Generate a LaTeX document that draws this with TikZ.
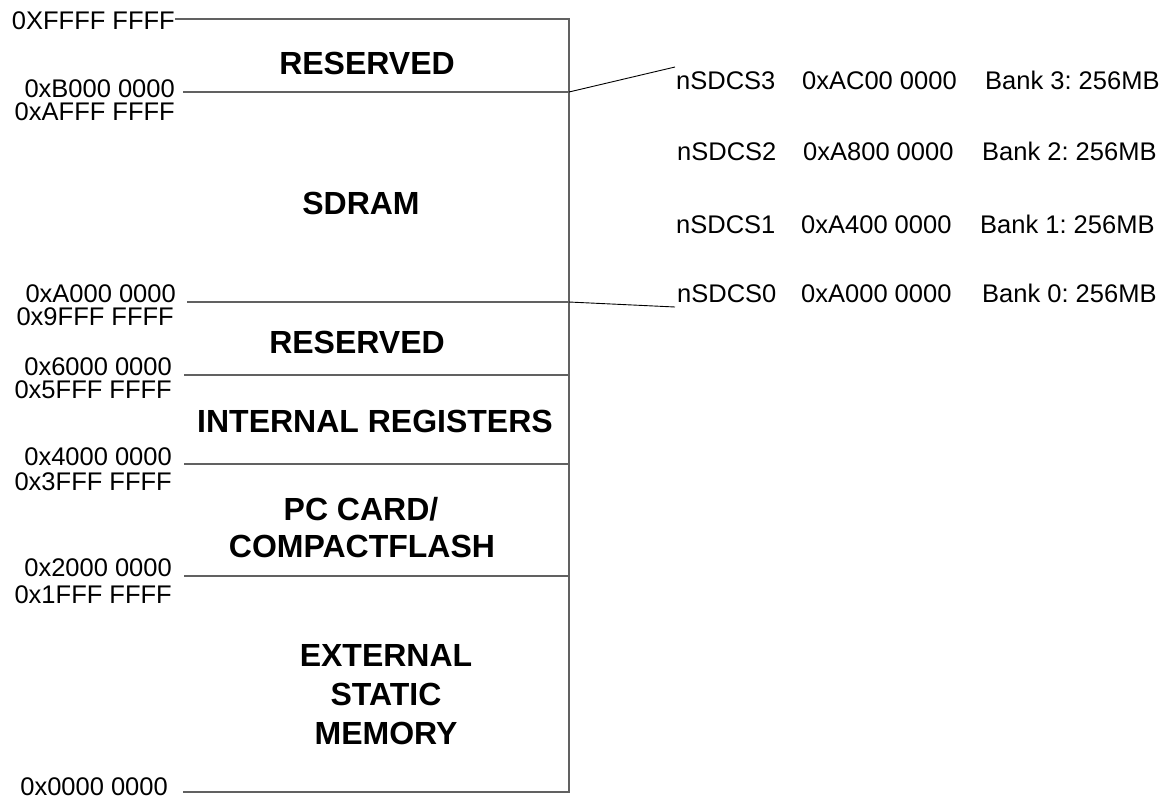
\documentclass[tikz,border=0pt]{standalone}
\usepackage{fontspec}
\setmainfont{Liberation Sans}
\frenchspacing
\begin{document}
\begin{tikzpicture}[x=1pt,y=-1pt,
  addr/.style={inner sep=0pt, anchor=base east, font=\fontsize{25.5}{30}\selectfont},
  region/.style={inner sep=0pt, anchor=base, font=\fontsize{32}{38}\selectfont\bfseries},
  bank/.style={inner sep=0pt, anchor=base west, font=\fontsize{25.5}{30}\selectfont},
  boxline/.style={draw=black!62, line width=1.3pt},
  leader/.style={draw=black, line width=0.9pt}]
\useasboundingbox (0,0) rectangle (1173,801);

% boundary coordinates
\coordinate (tl) at (175,19);  \coordinate (tr) at (569,19);
\coordinate (l1) at (183,92);  \coordinate (r1) at (569,92);
\coordinate (l2) at (187,302); \coordinate (r2) at (569,302);
\coordinate (l3) at (184,375); \coordinate (r3) at (569,375);
\coordinate (l4) at (184,464); \coordinate (r4) at (569,464);
\coordinate (l5) at (184,576); \coordinate (r5) at (569,576);
\coordinate (bl) at (183,792); \coordinate (br) at (569,792);
\coordinate (s3) at (675,67);  \coordinate (s0) at (675,307);

% map lines
\draw[boxline] (tl) -- (tr) -- (br) -- (bl);
\draw[boxline] (l1) -- (r1);
\draw[boxline] (l2) -- (r2);
\draw[boxline] (l3) -- (r3);
\draw[boxline] (l4) -- (r4);
\draw[boxline] (l5) -- (r5);

% leaders to SDRAM bank list
\draw[leader] (r1) -- (s3);
\draw[leader] (r2) -- (s0);

% address labels
\node[addr] (aFFFF) at (175,29) {0XFFFF FFFF};
\node[addr] (aB000) at (175,97.5) {0xB000 0000};
\node[addr] (aAFFF) at (175,120.5) {0xAFFF FFFF};
\node[addr] (aA000) at (176,302) {0xA000 0000};
\node[addr] (a9FFF) at (174,325) {0x9FFF FFFF};
\node[addr] (a6000) at (172,375) {0x6000 0000};
\node[addr] (a5FFF) at (172,398) {0x5FFF FFFF};
\node[addr] (a4000) at (172,465.5) {0x4000 0000};
\node[addr] (a3FFF) at (172,490) {0x3FFF FFFF};
\node[addr] (a2000) at (172,576) {0x2000 0000};
\node[addr] (a1FFF) at (172,603) {0x1FFF FFFF};
\node[addr] (a0000) at (168,795) {0x0000 0000};

% region labels
\node[region] (res1) at (367,74.5) {RESERVED};
\node[region] (sdram) at (361,214.5) {SDRAM};
\node[region] (res2) at (357,353.5) {RESERVED};
\node[region] (intreg) at (375,432.5) {INTERNAL REGISTERS};
\node[region] (pc1) at (361,520.5) {PC CARD/};
\node[region] (pc2) at (362,557.5) {COMPACTFLASH};
\node[region] (ext1) at (386,666.5) {EXTERNAL};
\node[region] (ext2) at (386,705.5) {STATIC};
\node[region] (ext3) at (386,744.5) {MEMORY};

% SDRAM bank list
\node[bank] (cs3) at (676,89) {nSDCS3};
\node[bank] (ad3) at (802,89) {0xAC00 0000};
\node[bank] (bk3) at (985,89) {Bank 3: 256MB};
\node[bank] (cs2) at (677,160) {nSDCS2};
\node[bank] (ad2) at (803,160) {0xA800 0000};
\node[bank] (bk2) at (982,160) {Bank 2: 256MB};
\node[bank] (cs1) at (676,233) {nSDCS1};
\node[bank] (ad1) at (801,233) {0xA400 0000};
\node[bank] (bk1) at (980,233) {Bank 1: 256MB};
\node[bank] (cs0) at (677,302) {nSDCS0};
\node[bank] (ad0) at (801,302) {0xA000 0000};
\node[bank] (bk0) at (982,302) {Bank 0: 256MB};
\end{tikzpicture}
\end{document}
